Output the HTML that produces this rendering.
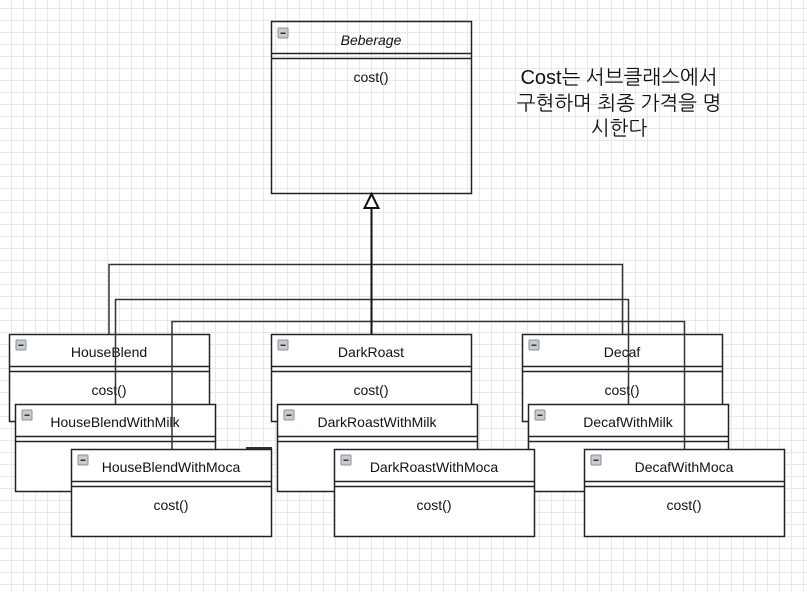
<!DOCTYPE html>
<html><head><meta charset="utf-8"><style>
html,body{margin:0;padding:0;}
body{width:807px;height:592px;overflow:hidden;background-color:#fff;
background-image:linear-gradient(#e8e8e8 1px,transparent 1px),linear-gradient(90deg,#e8e8e8 1px,transparent 1px);
background-size:12px 12px;background-position:-1px 8px;font-family:"Liberation Sans","NanumGothic",sans-serif;}
</style></head><body>
<svg width="807" height="592" style="position:absolute;left:0;top:0" font-family="Liberation Sans, NanumGothic, sans-serif">
<defs>
<g id="mi"><rect x="0" y="0" width="10" height="10" fill="#c8ccd2" stroke="#8a8f96" stroke-width="1" rx="1"/><rect x="2.5" y="4.5" width="5" height="1.5" fill="#333"/></g>
</defs>
<g stroke="#222" stroke-width="1.5" fill="#fff">
<!-- Beberage -->
<rect x="271.5" y="21.5" width="200" height="172" fill="none"/>
<line x1="271" y1="53.5" x2="471" y2="53.5"/><line x1="271" y1="58.5" x2="471" y2="58.5"/>
</g>
<use href="#mi" x="278" y="28"/>
<text x="371" y="45" text-anchor="middle" font-size="14" font-style="italic" fill="#111">Beberage</text>
<text x="371" y="82" text-anchor="middle" font-size="14" fill="#111">cost()</text>
<g font-size="14" fill="#111" text-anchor="middle">
<g transform="translate(9,334)"><rect x=".5" y=".5" width="200" height="87" fill="#fff" stroke="#222" stroke-width="1.5"/><line x1="0" y1="32.5" x2="200" y2="32.5" stroke="#222" stroke-width="1.5"/><line x1="0" y1="37.5" x2="200" y2="37.5" stroke="#222" stroke-width="1.5"/><use href="#mi" x="7" y="6"/><text x="100" y="23">HouseBlend</text><text x="100" y="61">cost()</text></g>
<g transform="translate(271,334)"><rect x=".5" y=".5" width="200" height="87" fill="#fff" stroke="#222" stroke-width="1.5"/><line x1="0" y1="32.5" x2="200" y2="32.5" stroke="#222" stroke-width="1.5"/><line x1="0" y1="37.5" x2="200" y2="37.5" stroke="#222" stroke-width="1.5"/><use href="#mi" x="7" y="6"/><text x="100" y="23">DarkRoast</text><text x="100" y="61">cost()</text></g>
<g transform="translate(522,334)"><rect x=".5" y=".5" width="200" height="87" fill="#fff" stroke="#222" stroke-width="1.5"/><line x1="0" y1="32.5" x2="200" y2="32.5" stroke="#222" stroke-width="1.5"/><line x1="0" y1="37.5" x2="200" y2="37.5" stroke="#222" stroke-width="1.5"/><use href="#mi" x="7" y="6"/><text x="100" y="23">Decaf</text><text x="100" y="61">cost()</text></g>
<g transform="translate(15,404)"><rect x=".5" y=".5" width="200" height="87" fill="#fff" stroke="#222" stroke-width="1.5"/><line x1="0" y1="32.5" x2="200" y2="32.5" stroke="#222" stroke-width="1.5"/><line x1="0" y1="37.5" x2="200" y2="37.5" stroke="#222" stroke-width="1.5"/><use href="#mi" x="7" y="6"/><text x="100" y="23">HouseBlendWithMilk</text></g>
<g transform="translate(277,404)"><rect x=".5" y=".5" width="200" height="87" fill="#fff" stroke="#222" stroke-width="1.5"/><line x1="0" y1="32.5" x2="200" y2="32.5" stroke="#222" stroke-width="1.5"/><line x1="0" y1="37.5" x2="200" y2="37.5" stroke="#222" stroke-width="1.5"/><use href="#mi" x="7" y="6"/><text x="100" y="23">DarkRoastWithMilk</text></g>
<g transform="translate(528,404)"><rect x=".5" y=".5" width="200" height="87" fill="#fff" stroke="#222" stroke-width="1.5"/><line x1="0" y1="32.5" x2="200" y2="32.5" stroke="#222" stroke-width="1.5"/><line x1="0" y1="37.5" x2="200" y2="37.5" stroke="#222" stroke-width="1.5"/><use href="#mi" x="7" y="6"/><text x="100" y="23">DecafWithMilk</text></g>
</g>
<!-- connectors -->
<g stroke="#333" stroke-width="1.5" fill="none">
<polyline points="109,334 109,264.5 622.5,264.5 622.5,334"/>
<polyline points="115.5,404 115.5,299.5 628.5,299.5 628.5,404"/>
<polyline points="172,449 172,321.5 684.5,321.5 684.5,449"/>
<line x1="246" y1="448" x2="272" y2="448" stroke-width="2"/>
</g>
<line x1="371.5" y1="208" x2="371.5" y2="334" stroke="#111" stroke-width="2"/>
<polygon points="371.5,194 364.5,208 378.5,208" fill="#fff" stroke="#111" stroke-width="2"/>
<g font-size="14" fill="#111" text-anchor="middle">
<g transform="translate(71,449)"><rect x=".5" y=".5" width="200" height="87" fill="#fff" stroke="#222" stroke-width="1.5"/><line x1="0" y1="32.5" x2="200" y2="32.5" stroke="#222" stroke-width="1.5"/><line x1="0" y1="37.5" x2="200" y2="37.5" stroke="#222" stroke-width="1.5"/><use href="#mi" x="7" y="6"/><text x="100" y="23">HouseBlendWithMoca</text><text x="100" y="61">cost()</text></g>
<g transform="translate(334,449)"><rect x=".5" y=".5" width="200" height="87" fill="#fff" stroke="#222" stroke-width="1.5"/><line x1="0" y1="32.5" x2="200" y2="32.5" stroke="#222" stroke-width="1.5"/><line x1="0" y1="37.5" x2="200" y2="37.5" stroke="#222" stroke-width="1.5"/><use href="#mi" x="7" y="6"/><text x="100" y="23">DarkRoastWithMoca</text><text x="100" y="61">cost()</text></g>
<g transform="translate(584,449)"><rect x=".5" y=".5" width="200" height="87" fill="#fff" stroke="#222" stroke-width="1.5"/><line x1="0" y1="32.5" x2="200" y2="32.5" stroke="#222" stroke-width="1.5"/><line x1="0" y1="37.5" x2="200" y2="37.5" stroke="#222" stroke-width="1.5"/><use href="#mi" x="7" y="6"/><text x="100" y="23">DecafWithMoca</text><text x="100" y="61">cost()</text></g>
</g>
<g font-size="20" fill="#111" text-anchor="middle">
<text x="619" y="84">Cost는 서브클래스에서</text>
<text x="619" y="110">구현하며 최종 가격을 명</text>
<text x="619" y="135">시한다</text>
</g>
</svg>
</body></html>
